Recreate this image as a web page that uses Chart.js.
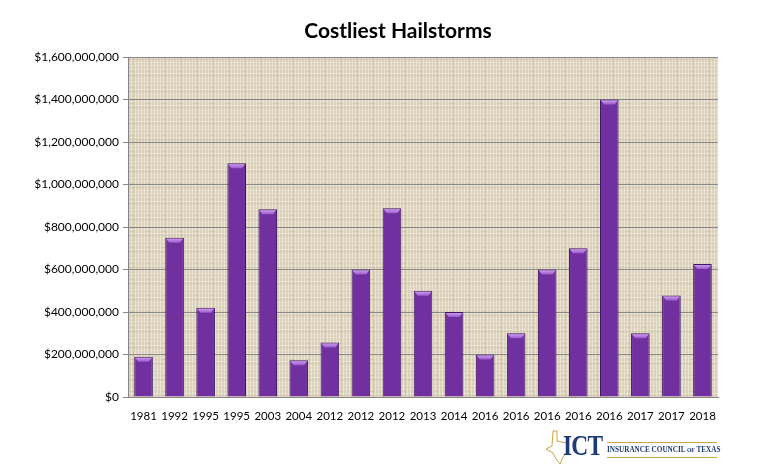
<!DOCTYPE html>
<html>
<head>
<meta charset="utf-8">
<script src="https://cdn.jsdelivr.net/npm/chart.js@4.4.1/dist/chart.umd.min.js"></script>
<style>
  body { margin: 0; background: #fff; }
  #wrap { position: relative; width: 769px; height: 476px; }
  #logo { position: absolute; left: 545px; top: 430px; width: 175px; height: 36px; font-family: "Liberation Serif", serif; }
  #logo .ict { position: absolute; left: 18px; top: 0px; font-size: 30px; line-height: 30px; font-weight: bold; color: #1f3a7a; letter-spacing: -1px; transform: scaleX(0.78); transform-origin: left top; }
  #logo .name { position: absolute; left: 62px; top: 14px; font-size: 9px; font-weight: bold; color: #1f3a7a; white-space: nowrap; transform: scaleX(0.8); transform-origin: left top; }
  #logo .l1 { position: absolute; left: 62px; top: 12px; width: 110px; height: 1px; background: #c9a640; }
  #logo .l2 { position: absolute; left: 62px; top: 27px; width: 110px; height: 1px; background: #c9a640; }
</style>
</head>
<body>
<div id="wrap">
  <canvas id="myChart" width="769" height="476"></canvas>
  <div id="logo">
    <svg width="24" height="36" style="position:absolute;left:0;top:0">
      <path d="M8 1 L12 1 L12 11 L22 13 L23 21 L18 27 L15 34 L11 29 L8 23 L1 19 L7 16 Z" fill="none" stroke="#c9a640" stroke-width="1"/>
    </svg>
    <div class="l1"></div>
    <span class="ict">ICT</span>
    <span class="name">INSURANCE COUNCIL <span style="font-size:7px">OF</span> TEXAS</span>
    <div class="l2"></div>
  </div>
</div>
<script>
const years = ["1981", "1992", "1995", "1995", "2003", "2004", "2012", "2012", "2012", "2013",
  "2014", "2016", "2016", "2016", "2016", "2016", "2017", "2017", "2018"];
const losses = [190000000, 750000000, 420000000, 1100000000, 883000000, 173000000, 257000000,
  600000000, 888000000, 500000000, 400000000, 200000000, 300000000, 600000000, 700000000,
  1400000000, 300000000, 478000000, 626000000];
const yTicks = [0, 200000000, 400000000, 600000000, 800000000, 1000000000, 1200000000, 1400000000, 1600000000];
const chartTitle = "Costliest Hailstorms";

// woven burlap-ish texture for the plot background
const makeTexture = (ctx) => {
  const p = document.createElement("canvas");
  p.width = 16;
  p.height = 16;
  const c = p.getContext("2d");
  c.fillStyle = "#dbd1bb";
  c.fillRect(0, 0, 16, 16);
  c.fillStyle = "rgba(248,244,234,0.5)";
  [0, 3, 7, 10, 13].forEach((i) => c.fillRect(i, 0, 1, 16));
  c.fillStyle = "rgba(246,242,230,0.35)";
  [1, 5, 9, 14].forEach((j) => c.fillRect(0, j, 16, 1));
  c.fillStyle = "rgba(185,172,145,0.25)";
  c.fillRect(5, 0, 1, 16);
  c.fillRect(0, 11, 16, 1);
  c.fillRect(11, 3, 1, 4);
  c.fillRect(2, 7, 4, 1);
  return ctx.createPattern(p, "repeat");
};

const backdrop = {
  id: "backdrop",
  beforeDraw(chart) {
    const { ctx, chartArea: a } = chart;
    ctx.save();
    ctx.fillStyle = makeTexture(ctx);
    ctx.fillRect(a.left, a.top, a.right - a.left, a.bottom - a.top);
    ctx.restore();
  },
  afterDraw(chart) {
    const ctx = chart.ctx;
    ctx.save();
    ctx.fillStyle = "#000";
    ctx.font = "bold 21px Lato";
    ctx.textAlign = "center";
    ctx.textBaseline = "middle";
    ctx.fillText(chartTitle, 398, 31);
    ctx.restore();
  },
};

// rounded purple cylinder look
const barFill = (c) => {
  const el = c.element;
  if (!el || el.width === undefined) return "#7030a0";
  const x0 = el.x - el.width / 2;
  const g = c.chart.ctx.createLinearGradient(x0, 0, x0 + el.width, 0);
  g.addColorStop(0, "#5a2288");
  g.addColorStop(0.35, "#8a44bd");
  g.addColorStop(0.6, "#7a36ac");
  g.addColorStop(1, "#4e1d78");
  return g;
};

const capPlugin = {
  id: "caps",
  afterDatasetsDraw(chart) {
    const ctx = chart.ctx;
    chart.getDatasetMeta(0).data.forEach((bar) => {
      const x0 = bar.x - bar.width / 2;
      const g = ctx.createLinearGradient(0, bar.y, 0, bar.y + 5);
      g.addColorStop(0, "#d6a8f2");
      g.addColorStop(1, "#9a5ccc");
      ctx.save();
      ctx.fillStyle = g;
      ctx.beginPath();
      ctx.moveTo(x0 + 1, bar.y + 1);
      ctx.lineTo(x0 + bar.width - 1, bar.y + 1);
      ctx.lineTo(x0 + bar.width - 4, bar.y + 5);
      ctx.lineTo(x0 + 4, bar.y + 5);
      ctx.closePath();
      ctx.fill();
      ctx.restore();
    });
  },
};

new Chart(document.getElementById("myChart"), {
  type: "bar",
  data: {
    labels: years,
    datasets: [
      {
        data: losses,
        backgroundColor: barFill,
        borderColor: "#3f1764",
        borderWidth: 1,
        barPercentage: 0.6,
        categoryPercentage: 1,
      },
    ],
  },
  options: {
    responsive: false,
    animation: false,
    layout: { padding: { left: 10, right: 51, top: 57, bottom: 54 } },
    plugins: { legend: { display: false }, tooltip: { enabled: false } },
    scales: {
      x: {
        grid: { display: false },
        border: { color: "#868686" },
        ticks: { color: "#000", font: { family: "Lato", size: 11.5 }, maxRotation: 0, autoSkip: false, padding: 4 },
        afterFit: (s) => { s.height = 25; },
      },
      y: {
        min: 0,
        max: 1600000000,
        afterBuildTicks: (s) => { s.ticks = yTicks.map((v) => ({ value: v })); },
        grid: { color: "#8a8a8a", tickLength: 5 },
        border: { color: "#868686" },
        ticks: {
          color: "#000",
          font: { family: "Lato", size: 12 },
          padding: 4,
          callback: (v) => "$" + v.toLocaleString("en-US"),
        },
        afterFit: (s) => { s.width = 118; },
      },
    },
  },
  plugins: [backdrop, capPlugin],
});
</script>
</body>
</html>
